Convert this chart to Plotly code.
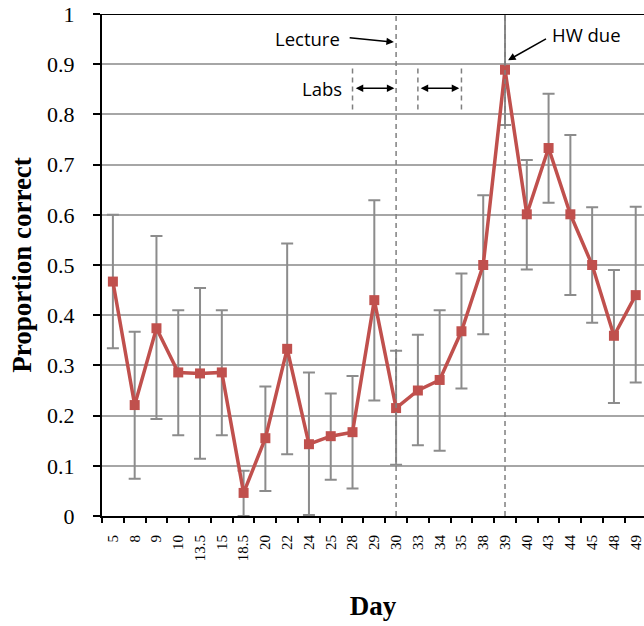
import plotly.graph_objects as go

days = ["5", "8", "9", "10", "13.5", "15", "18.5", "20", "22", "24", "25", "28", "29",
        "30", "33", "34", "35", "38", "39", "40", "43", "44", "45", "48", "49"]
proportion = [0.467, 0.221, 0.374, 0.286, 0.284, 0.286, 0.046, 0.155, 0.333, 0.143, 0.159, 0.167, 0.430,
              0.215, 0.250, 0.271, 0.368, 0.500, 0.889, 0.601, 0.733, 0.601, 0.500, 0.359, 0.440]
err_upper = [0.600, 0.367, 0.558, 0.410, 0.454, 0.410, 0.090, 0.258, 0.543, 0.286, 0.244, 0.279, 0.629,
             0.329, 0.361, 0.410, 0.483, 0.639, 1.000, 0.709, 0.841, 0.759, 0.615, 0.490, 0.616]
err_lower = [0.334, 0.074, 0.193, 0.161, 0.114, 0.161, 0.000, 0.050, 0.123, 0.002, 0.072, 0.055, 0.230,
             0.102, 0.141, 0.130, 0.254, 0.362, 0.779, 0.491, 0.624, 0.440, 0.385, 0.225, 0.266]

lecture_day_idx = 13
hw_day_idx = 18
lab_idx = [11, 14, 16]

plus = [u - v for u, v in zip(err_upper, proportion)]
minus = [v - l for v, l in zip(proportion, err_lower)]

red = "#C0504D"
gray = "#8C8C8C"

fig = go.Figure()
fig.add_trace(go.Scatter(
    x=days, y=proportion, mode="lines+markers",
    line=dict(color=red, width=3.5),
    marker=dict(symbol="square", size=10, color=red),
    error_y=dict(type="data", symmetric=False, array=plus, arrayminus=minus,
                 color=gray, thickness=2, width=6),
    showlegend=False, cliponaxis=False,
))

shapes = []
for xi in [lecture_day_idx, hw_day_idx]:
    shapes.append(dict(type="line", xref="x", yref="y", x0=xi, x1=xi, y0=0, y1=1,
                       line=dict(color="#7F7F7F", width=1.5, dash="5px,4px"), layer="above"))
for xi in lab_idx:
    shapes.append(dict(type="line", xref="x", yref="y", x0=xi, x1=xi, y0=0.81, y1=0.898,
                       line=dict(color="#7F7F7F", width=1.5, dash="5px,4px"), layer="above"))
shapes.append(dict(type="line", xref="paper", yref="y", x0=0, x1=1, y0=1, y1=1,
                   line=dict(color="black", width=2), layer="above"))

ann_font = dict(family="Open Sans", size=18.5, color="black")
annotations = [
    dict(x=10.51, y=0.952, xref="x", yref="y", text="Lecture", showarrow=False,
         xanchor="right", yanchor="middle", font=ann_font),
    dict(x=12.9, y=0.944, ax=10.8, ay=0.953, xref="x", yref="y", axref="x", ayref="y",
         text="", showarrow=True, arrowhead=2, arrowsize=1, arrowwidth=1.5, arrowcolor="black"),
    dict(x=10.6, y=0.851, xref="x", yref="y", text="Labs", showarrow=False,
         xanchor="right", yanchor="middle", font=ann_font),
    dict(x=12.92, y=0.852, ax=11.08, ay=0.852, xref="x", yref="y", axref="x", ayref="y",
         text="", showarrow=True, arrowhead=2, startarrowhead=2, arrowside="end+start",
         arrowsize=1, startarrowsize=1, arrowwidth=1.5, arrowcolor="black"),
    dict(x=15.9, y=0.852, ax=14.06, ay=0.852, xref="x", yref="y", axref="x", ayref="y",
         text="", showarrow=True, arrowhead=2, startarrowhead=2, arrowside="end+start",
         arrowsize=1, startarrowsize=1, arrowwidth=1.5, arrowcolor="black"),
    dict(x=20.07, y=0.960, xref="x", yref="y", text="HW due", showarrow=False,
         xanchor="left", yanchor="middle", font=ann_font),
    dict(x=18.14, y=0.908, ax=19.95, ay=0.952, xref="x", yref="y", axref="x", ayref="y",
         text="", showarrow=True, arrowhead=2, arrowsize=1, arrowwidth=1.5, arrowcolor="black"),
]

fig.update_layout(
    width=644, height=626,
    margin=dict(l=102, r=0, t=14, b=110),
    plot_bgcolor="white", paper_bgcolor="white",
    shapes=shapes, annotations=annotations,
    xaxis=dict(
        type="category", categoryorder="array", categoryarray=days,
        range=[-0.5, 24.38], tickson="boundaries",
        ticks="outside", ticklen=5, tickwidth=2, tickcolor="black",
        showline=True, linecolor="black", linewidth=2,
        showgrid=False, tickangle=-90,
        tickfont=dict(family="Liberation Serif", size=15, color="black"),
        ticklabelstandoff=11,
        title=dict(text="<b>Day</b>", font=dict(family="Liberation Serif", size=27, color="black"),
                   standoff=36),
    ),
    yaxis=dict(
        range=[0, 1], dtick=0.1, tick0=0,
        ticks="outside", ticklen=7, tickwidth=2, tickcolor="black",
        showline=True, linecolor="black", linewidth=2,
        showgrid=True, gridcolor="#A6A6A6", gridwidth=1.5, zeroline=False,
        tickfont=dict(family="Liberation Serif", size=22, color="black"),
        ticklabelstandoff=14,
        title=dict(text="<b>Proportion correct</b>",
                   font=dict(family="Liberation Serif", size=27, color="black"), standoff=8),
    ),
)

fig.write_html("out.html")
